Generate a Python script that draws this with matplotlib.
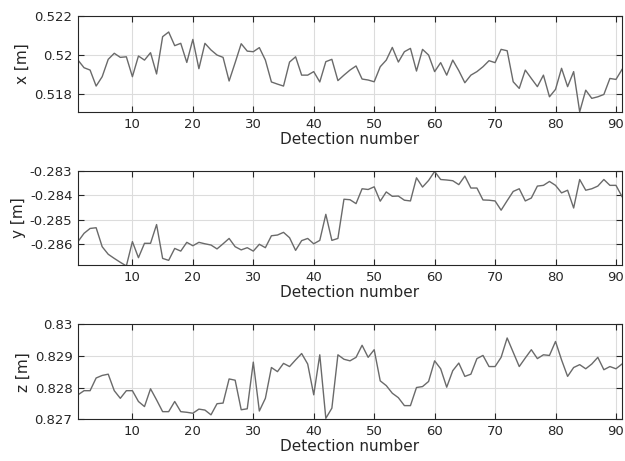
import numpy as np
import matplotlib
matplotlib.use('Agg')
import matplotlib.pyplot as plt

# detection number 1..91
detection = np.arange(1, 92)

x_m = [0.51974, 0.51935, 0.51923, 0.51841, 0.51889, 0.51978, 0.52009, 0.51988, 0.51991, 0.51889,
       0.51995, 0.51974, 0.52012, 0.51903, 0.52094, 0.52118, 0.52048, 0.52060, 0.51962, 0.52080,
       0.51930, 0.52060, 0.52026, 0.52000, 0.51988, 0.51867, 0.51961, 0.52058, 0.52020, 0.52017,
       0.52038, 0.51974, 0.51862, 0.51851, 0.51841, 0.51964, 0.51991, 0.51897, 0.51897, 0.51915,
       0.51862, 0.51966, 0.51978, 0.51869, 0.51897, 0.51923, 0.51944, 0.51877, 0.51872, 0.51863,
       0.51940, 0.51974, 0.52039, 0.51964, 0.52017, 0.52034, 0.51918, 0.52029, 0.52000, 0.51915,
       0.51961, 0.51897, 0.51974, 0.51920, 0.51858, 0.51897, 0.51915, 0.51940, 0.51971, 0.51961,
       0.52029, 0.52022, 0.51863, 0.51829, 0.51923, 0.51880, 0.51838, 0.51897, 0.51786, 0.51824,
       0.51932, 0.51838, 0.51915, 0.51709, 0.51820, 0.51778, 0.51786, 0.51798, 0.51880, 0.51875,
       0.51926]

y_m = [-0.28590, -0.28556, -0.28536, -0.28533, -0.28611, -0.28642, -0.28659, -0.28675, -0.28690, -0.28590,
       -0.28656, -0.28597, -0.28597, -0.28520, -0.28659, -0.28667, -0.28618, -0.28629, -0.28593, -0.28607,
       -0.28593, -0.28599, -0.28604, -0.28620, -0.28599, -0.28577, -0.28611, -0.28624, -0.28615, -0.28629,
       -0.28601, -0.28615, -0.28566, -0.28563, -0.28552, -0.28574, -0.28626, -0.28586, -0.28577, -0.28599,
       -0.28585, -0.28478, -0.28585, -0.28577, -0.28416, -0.28418, -0.28434, -0.28373, -0.28376, -0.28365,
       -0.28424, -0.28386, -0.28404, -0.28403, -0.28420, -0.28423, -0.28328, -0.28366, -0.28339, -0.28302,
       -0.28335, -0.28337, -0.28340, -0.28356, -0.28321, -0.28370, -0.28370, -0.28419, -0.28420, -0.28423,
       -0.28461, -0.28422, -0.28384, -0.28373, -0.28423, -0.28411, -0.28362, -0.28359, -0.28343, -0.28359,
       -0.28390, -0.28379, -0.28452, -0.28335, -0.28379, -0.28373, -0.28362, -0.28335, -0.28359, -0.28359,
       -0.28405]

z_m = [0.82777, 0.82790, 0.82790, 0.82830, 0.82838, 0.82842, 0.82790, 0.82766, 0.82790, 0.82790,
       0.82756, 0.82740, 0.82796, 0.82761, 0.82724, 0.82724, 0.82756, 0.82724, 0.82722, 0.82719,
       0.82732, 0.82729, 0.82714, 0.82749, 0.82751, 0.82827, 0.82823, 0.82730, 0.82733, 0.82880,
       0.82726, 0.82766, 0.82863, 0.82850, 0.82876, 0.82866, 0.82887, 0.82907, 0.82874, 0.82777,
       0.82903, 0.82703, 0.82735, 0.82903, 0.82889, 0.82884, 0.82895, 0.82933, 0.82895, 0.82919,
       0.82821, 0.82806, 0.82782, 0.82768, 0.82743, 0.82743, 0.82800, 0.82803, 0.82819, 0.82884,
       0.82859, 0.82801, 0.82853, 0.82877, 0.82835, 0.82842, 0.82891, 0.82901, 0.82866, 0.82866,
       0.82895, 0.82956, 0.82911, 0.82866, 0.82893, 0.82919, 0.82891, 0.82903, 0.82901, 0.82945,
       0.82887, 0.82835, 0.82863, 0.82872, 0.82859, 0.82874, 0.82895, 0.82856, 0.82866, 0.82859,
       0.82874]

ylabels = ['x [m]', 'y [m]', 'z [m]']
yticks = [[0.518, 0.52, 0.522], [-0.286, -0.285, -0.284, -0.283], [0.827, 0.828, 0.829, 0.83]]
yticklabels = [['0.518', '0.52', '0.522'], ['-0.286', '-0.285', '-0.284', '-0.283'],
               ['0.827', '0.828', '0.829', '0.83']]
ylims = [(0.51708, 0.522), (-0.28686, -0.283), (0.827, 0.83)]
xticks = [10, 20, 30, 40, 50, 60, 70, 80, 90]

fg = '#262626'
fig = plt.figure(figsize=(6.25, 4.61), dpi=100)
positions = [[0.1248, 0.757, 0.8704, 0.2083],
             [0.1248, 0.4252, 0.8704, 0.2039],
             [0.1248, 0.0905, 0.8704, 0.2067]]

for k, data in enumerate([x_m, y_m, z_m]):
    ax = fig.add_axes(positions[k])
    ax.plot(detection, data, color='#6a6a6a', lw=1.0)
    ax.set_xlim(1, 91)
    ax.set_ylim(*ylims[k])
    ax.set_xticks(xticks)
    ax.set_yticks(yticks[k])
    ax.set_yticklabels(yticklabels[k])
    ax.grid(True, color='#dcdcdc', lw=0.8)
    ax.set_axisbelow(True)
    ax.tick_params(direction='in', length=4, width=0.8, colors=fg, labelsize=9.5,
                   top=True, right=True, pad=4)
    for s in ax.spines.values():
        s.set_color(fg)
        s.set_linewidth(0.8)
    ax.set_xlabel('Detection number', fontsize=11, color=fg, labelpad=1)
    ax.set_ylabel(ylabels[k], fontsize=11, color=fg, labelpad=3)

fig.savefig('out.png', dpi=100)
